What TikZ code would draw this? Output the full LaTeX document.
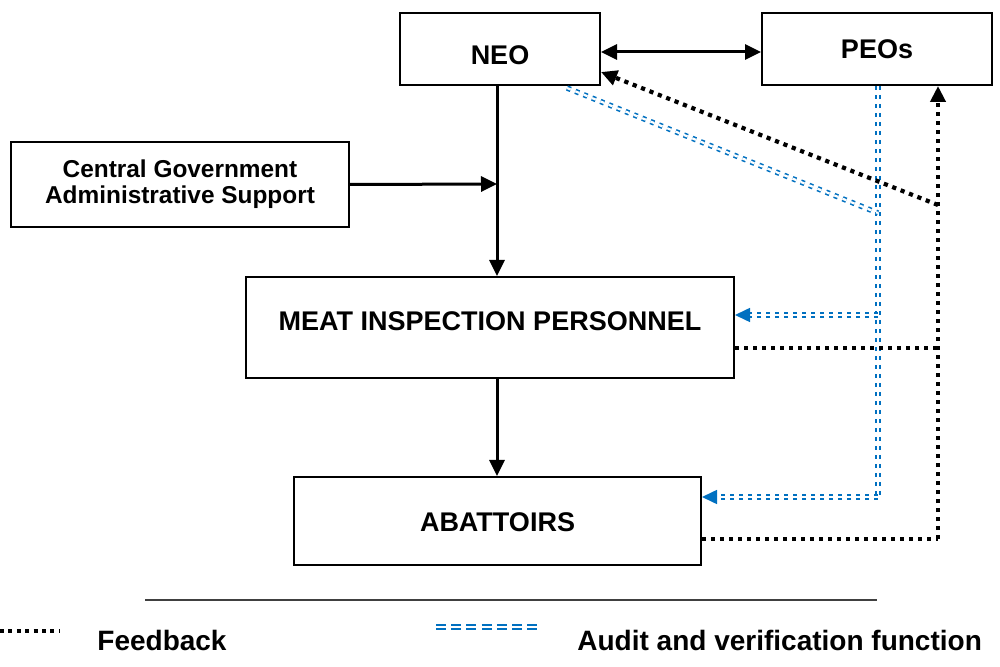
\documentclass[tikz,border=0pt]{standalone}
\usepackage{fontspec}
\setmainfont{Liberation Sans}
\usetikzlibrary{arrows.meta}
\definecolor{audblue}{RGB}{0,112,192}
\begin{document}
\begin{tikzpicture}[x=0.5pt,y=-0.5pt,
  boxnode/.style={draw, line width=1pt, inner sep=0pt, font=\fontsize{13.5}{16}\selectfont\bfseries, align=center},
  solidarr/.style={line width=1.5pt, -{Triangle[length=8pt,width=7.5pt]}},
  fbline/.style={line width=2.1pt, dash pattern=on 2.1pt off 2.4pt},
  fbarr/.style={fbline, -{Triangle[length=8pt,width=7.5pt]}},
  audline/.style={draw=audblue, line width=0.8pt, double=white, double distance=1.1pt, dash pattern=on 2pt off 2.5pt},
  audarr/.style={audline, -{Triangle[length=7.5pt,width=7pt,color=audblue]}},
  legtext/.style={font=\fontsize{14}{16}\selectfont\bfseries, inner sep=0pt, anchor=base west}]
\useasboundingbox (0,0) rectangle (1000,667);

\node[boxnode, minimum width=100pt, minimum height=36pt, text height=16pt, text depth=0pt] (neo) at (500,49) {NEO};
\node[boxnode, minimum width=115pt, minimum height=36pt, text height=10pt, text depth=0pt] (peos) at (877,49) {PEOs};
\node[boxnode, minimum width=169pt, minimum height=42.5pt, font=\fontsize{12.2}{13}\selectfont\bfseries] (cgov) at (180,184.5) {Central Government\\Administrative Support};
\node[boxnode, minimum width=244pt, minimum height=50.5pt, text height=10pt, text depth=7pt] (mip) at (490,327.5) {MEAT INSPECTION PERSONNEL};
\node[boxnode, minimum width=203.5pt, minimum height=44pt, text height=10pt, text depth=0pt] (abat) at (497.5,521) {ABATTOIRS};

% coordinates
\coordinate (j) at (497,184);
\coordinate (bs) at (567,88);
\coordinate (bd) at (878,213);
\coordinate (bm) at (878,315);
\coordinate (bv) at (878,497);
\coordinate (fb1) at (938,539);
\coordinate (fb2) at (938,205);
\coordinate (fbm) at (938,348);
\coordinate (n72) at (602,72);

% solid arrows
\draw[line width=1.5pt, {Triangle[length=8pt,width=7.5pt]}-{Triangle[length=8pt,width=7.5pt]}] ([yshift=-1.5pt]neo.east) -- ([yshift=-1.5pt]peos.west);
\draw[solidarr] (cgov.east) -- (j);
\draw[solidarr] (neo.south -| j) -- (mip.north -| j);
\draw[solidarr] (mip.south -| j) -- (abat.north -| j);

% audit lines
\draw[audline] (peos.south -| bv) -- (bv);
\draw[audline] (bs) -- (bd);
\draw[audarr] (bm) -- (mip.east |- bm);
\draw[audarr] (bv) -- (abat.east |- bv);

% feedback lines
\draw[fbarr] (fb1) -- (peos.south -| fb1);
\draw[fbarr] (fb2) -- (neo.east |- n72);
\draw[fbline] (mip.east |- fbm) -- (fbm);
\draw[fbline] (abat.east |- fb1) -- (fb1);

% separator
\coordinate (s1) at (145,600);
\coordinate (s2) at (877,600);
\draw[line width=0.8pt, black!75] (s1) -- (s2);

% legend
\coordinate (l1) at (0,631);
\coordinate (l2) at (60,631);
\draw[fbline, line width=2pt, dash pattern=on 2pt off 2.2pt] (l1) -- (l2);
\node[legtext] (lfb) at (97,650) {Feedback};
\coordinate (l3) at (436,627);
\coordinate (l4) at (540,627);
\draw[audline, line width=1pt, double distance=1pt, dash pattern=on 5pt off 2.6pt] (l3) -- (l4);
\node[legtext] (lau) at (577,650) {Audit and verification function};
\end{tikzpicture}
\end{document}
